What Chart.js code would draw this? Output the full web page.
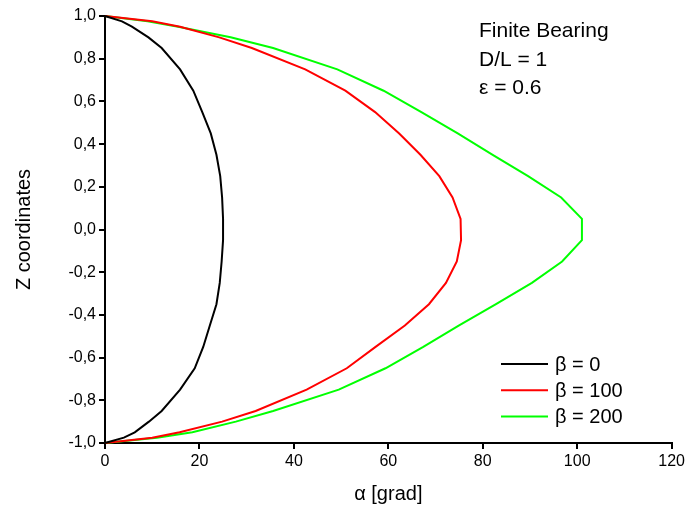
<!DOCTYPE html>
<html>
<head>
<meta charset="utf-8">
<script src="https://cdn.jsdelivr.net/npm/chart.js@4"></script>
<style>
  html, body { margin: 0; padding: 0; background: #fff; }
  #wrap { width: 688px; height: 513px; }
</style>
</head>
<body>
<div id="wrap"><canvas id="bearingChart" width="688" height="513"></canvas></div>
<script>
// Z coordinate along the bearing width
const zCoords = [1.0, 0.975, 0.95, 0.9, 0.85, 0.75, 0.65, 0.55, 0.45, 0.35, 0.25, 0.15, 0.05,
                 -0.05, -0.15, -0.25, -0.35, -0.45, -0.55, -0.65, -0.75, -0.85, -0.9, -0.95, -0.975, -1.0];

// angle alpha [grad] for each beta
const alphaBeta0   = [0, 3.6, 5.7, 9.2, 12.0, 15.9, 18.7, 20.6, 22.4, 23.6, 24.4, 24.8, 25.0,
                      25.0, 24.7, 24.3, 23.6, 22.2, 20.8, 19.0, 15.9, 12.0, 9.3, 6.3, 4.0, 0];
const alphaBeta100 = [0, 10.0, 15.9, 24.2, 31.1, 42.4, 50.9, 57.2, 62.3, 66.8, 70.8, 73.6, 75.3,
                      75.4, 74.5, 72.2, 68.6, 63.5, 57.3, 51.2, 42.7, 31.9, 24.8, 15.8, 10.0, 0];
const alphaBeta200 = [0, 9.0, 15.5, 26.6, 35.6, 49.2, 59.0, 67.0, 74.7, 82.1, 89.6, 96.6, 101.0,
                      101.0, 96.8, 90.4, 82.8, 74.9, 67.4, 59.4, 49.5, 35.6, 27.7, 18.5, 11.0, 0];

const seriesLabels = ['\u03b2 = 0', '\u03b2 = 100', '\u03b2 = 200'];
const seriesColors = ['#000000', '#ff0000', '#00ff00'];
const noteLines = ['Finite Bearing', 'D/L = 1', '\u03b5 = 0.6'];

const FONT = '"Liberation Sans", Arial, sans-serif';

function toPoints(xs) {
    return xs.map((x, i) => ({ x: x, y: zCoords[i] }));
}

// legend and parameter text drawn inside the plot
const overlayPlugin = {
    id: 'overlay',
    afterDraw(chart) {
        const c = chart.ctx;
        c.save();
        c.fillStyle = '#000';
        c.textBaseline = 'alphabetic';
        c.font = '21px ' + FONT;
        noteLines.forEach((t, i) => c.fillText(t, 479, 37 + i * 28.5));

        c.font = '20px ' + FONT;
        c.textBaseline = 'middle';
        chart.data.datasets.forEach((ds, i) => {
            const y = 364 + i * 26.3;
            c.strokeStyle = ds.borderColor;
            c.lineWidth = 2;
            c.beginPath();
            c.moveTo(501, y);
            c.lineTo(548, y);
            c.stroke();
            c.fillText(ds.label, 555, y + 1);
        });
        c.restore();
    }
};

const ctx = document.getElementById('bearingChart').getContext('2d');
const bearingChart = new Chart(ctx, {
    type: 'scatter',
    data: {
        datasets: [alphaBeta0, alphaBeta100, alphaBeta200].map((xs, i) => ({
            label: seriesLabels[i],
            data: toPoints(xs),
            showLine: true,
            borderColor: seriesColors[i],
            backgroundColor: seriesColors[i],
            borderWidth: 2,
            pointRadius: 0,
            tension: 0,
            clip: false
        }))
    },
    options: {
        responsive: false,
        animation: false,
        layout: { padding: { top: 16, right: 15, left: 0, bottom: 0 } },
        plugins: {
            legend: { display: false },
            tooltip: { enabled: false }
        },
        scales: {
            x: {
                type: 'linear',
                min: 0,
                max: 120,
                afterFit(scale) { scale.height = 70; },
                border: { display: true, color: '#000', width: 2 },
                grid: { drawOnChartArea: false, drawTicks: true, tickLength: 6, color: '#000', lineWidth: 2 },
                ticks: { stepSize: 20, color: '#000', padding: 3, font: { family: FONT, size: 16 } },
                title: { display: true, text: '\u03b1 [grad]', color: '#000', padding: { bottom: 7 }, font: { family: FONT, size: 20 } }
            },
            y: {
                type: 'linear',
                min: -1,
                max: 1,
                afterFit(scale) { scale.width = 105; },
                border: { display: true, color: '#000', width: 2 },
                grid: { drawOnChartArea: false, drawTicks: true, tickLength: 6, color: '#000', lineWidth: 2 },
                ticks: {
                    stepSize: 0.2,
                    color: '#000',
                    padding: 3,
                    font: { family: FONT, size: 16 },
                    callback: (v) => v.toFixed(1).replace('.', ',')
                },
                title: { display: true, text: 'Z coordinates', color: '#000', padding: { top: 12 }, font: { family: FONT, size: 20 } }
            }
        }
    },
    plugins: [overlayPlugin]
});
</script>
</body>
</html>
